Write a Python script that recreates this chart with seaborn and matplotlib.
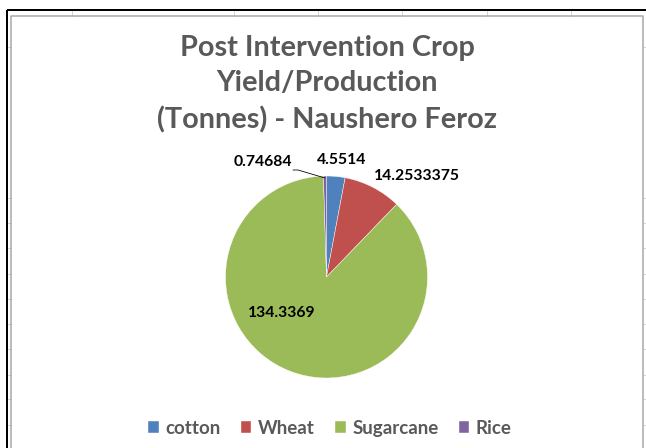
import matplotlib
matplotlib.use("Agg")
import matplotlib.pyplot as plt
import seaborn as sns

# Crop yields after intervention (tonnes)
crops = ["cotton", "Wheat", "Sugarcane", "Rice"]
yields = [4.5514, 14.2533375, 134.3369, 0.74684]
value_labels = ["4.5514", "14.2533375", "134.3369", "0.74684"]
title_lines = ["Post Intervention Crop", "Yield/Production", "(Tonnes) - Naushero Feroz"]
slice_colors = ["#4F81BD", "#C0504D", "#9BBB59", "#8064A2"]

sns.set_theme(style="white")
plt.rcParams["font.family"] = ["Lato", "DejaVu Sans"]
palette = sns.color_palette(slice_colors)

W, H = 646, 448
PX = 0.72  # one pixel in points at 100 dpi
fig = plt.figure(figsize=(W / 100, H / 100), dpi=100)
fig.patch.set_facecolor("white")

# worksheet frame behind the chart
bg = fig.add_axes([0, 0, 1, 1])
bg.set_xlim(0, W)
bg.set_ylim(H, 0)
bg.axis("off")
grid_c = "#D4D4D4"
for x in [72, 234, 318, 402, 487, 571]:
    bg.plot([x, x], [11, 16], color=grid_c, lw=PX)
for y in [47, 198, 223, 248, 274, 299, 324, 349, 375, 399, 425]:
    bg.plot([8, 11], [y, y], color=grid_c, lw=PX)
    bg.plot([644, 646], [y, y], color=grid_c, lw=PX)
bg.plot([7, W], [10, 10], color="black", lw=2 * PX, solid_capstyle="butt")
bg.plot([7, 7], [10, H], color="black", lw=2 * PX, solid_capstyle="butt")
bg.plot([11, 11, 643, 643], [H, 16, 16, H], color="#A6A6A6", lw=1.5 * PX)

# pie
cx, cy, r = 326.5, 277, 101
ax = fig.add_axes([(cx - r) / W, 1 - (cy + r) / H, 2 * r / W, 2 * r / H])
wedges, _ = ax.pie(
    yields,
    colors=palette,
    startangle=90,
    counterclock=False,
    radius=1,
    wedgeprops=dict(linewidth=0.3, edgecolor="white"),
)
ax.set_xlim(-1, 1)
ax.set_ylim(-1, 1)

# text overlay
ov = fig.add_axes([0, 0, 1, 1])
ov.set_xlim(0, W)
ov.set_ylim(H, 0)
ov.axis("off")
ov.patch.set_alpha(0)

title_color = "#595959"
for txt, y in zip(title_lines, [48, 83, 120]):
    ov.text(327, y, txt, ha="center", va="center", fontsize=20.8,
            fontweight="bold", color=title_color)

label_pos = [(342, 160), (417, 176), (282, 313), (263, 162)]
for txt, (x, y) in zip(value_labels, label_pos):
    ov.text(x, y, txt, ha="center", va="center", fontsize=11.3,
            fontweight="bold", color="black")
# leader line for the small Rice slice
ov.plot([293, 298, 325], [170, 170, 178], color="black", lw=0.8 * PX)

leg = fig.legend(
    wedges, crops, loc="center", bbox_to_anchor=(330 / W, 1 - 428 / H),
    ncol=4, frameon=False, handlelength=0.55, handleheight=0.55,
    handletextpad=0.35, columnspacing=1.1,
    prop=dict(family=["Lato", "DejaVu Sans"], weight="bold", size=13.5),
)
for t in leg.get_texts():
    t.set_color(title_color)

fig.savefig("out.png", dpi=100, facecolor="white")
